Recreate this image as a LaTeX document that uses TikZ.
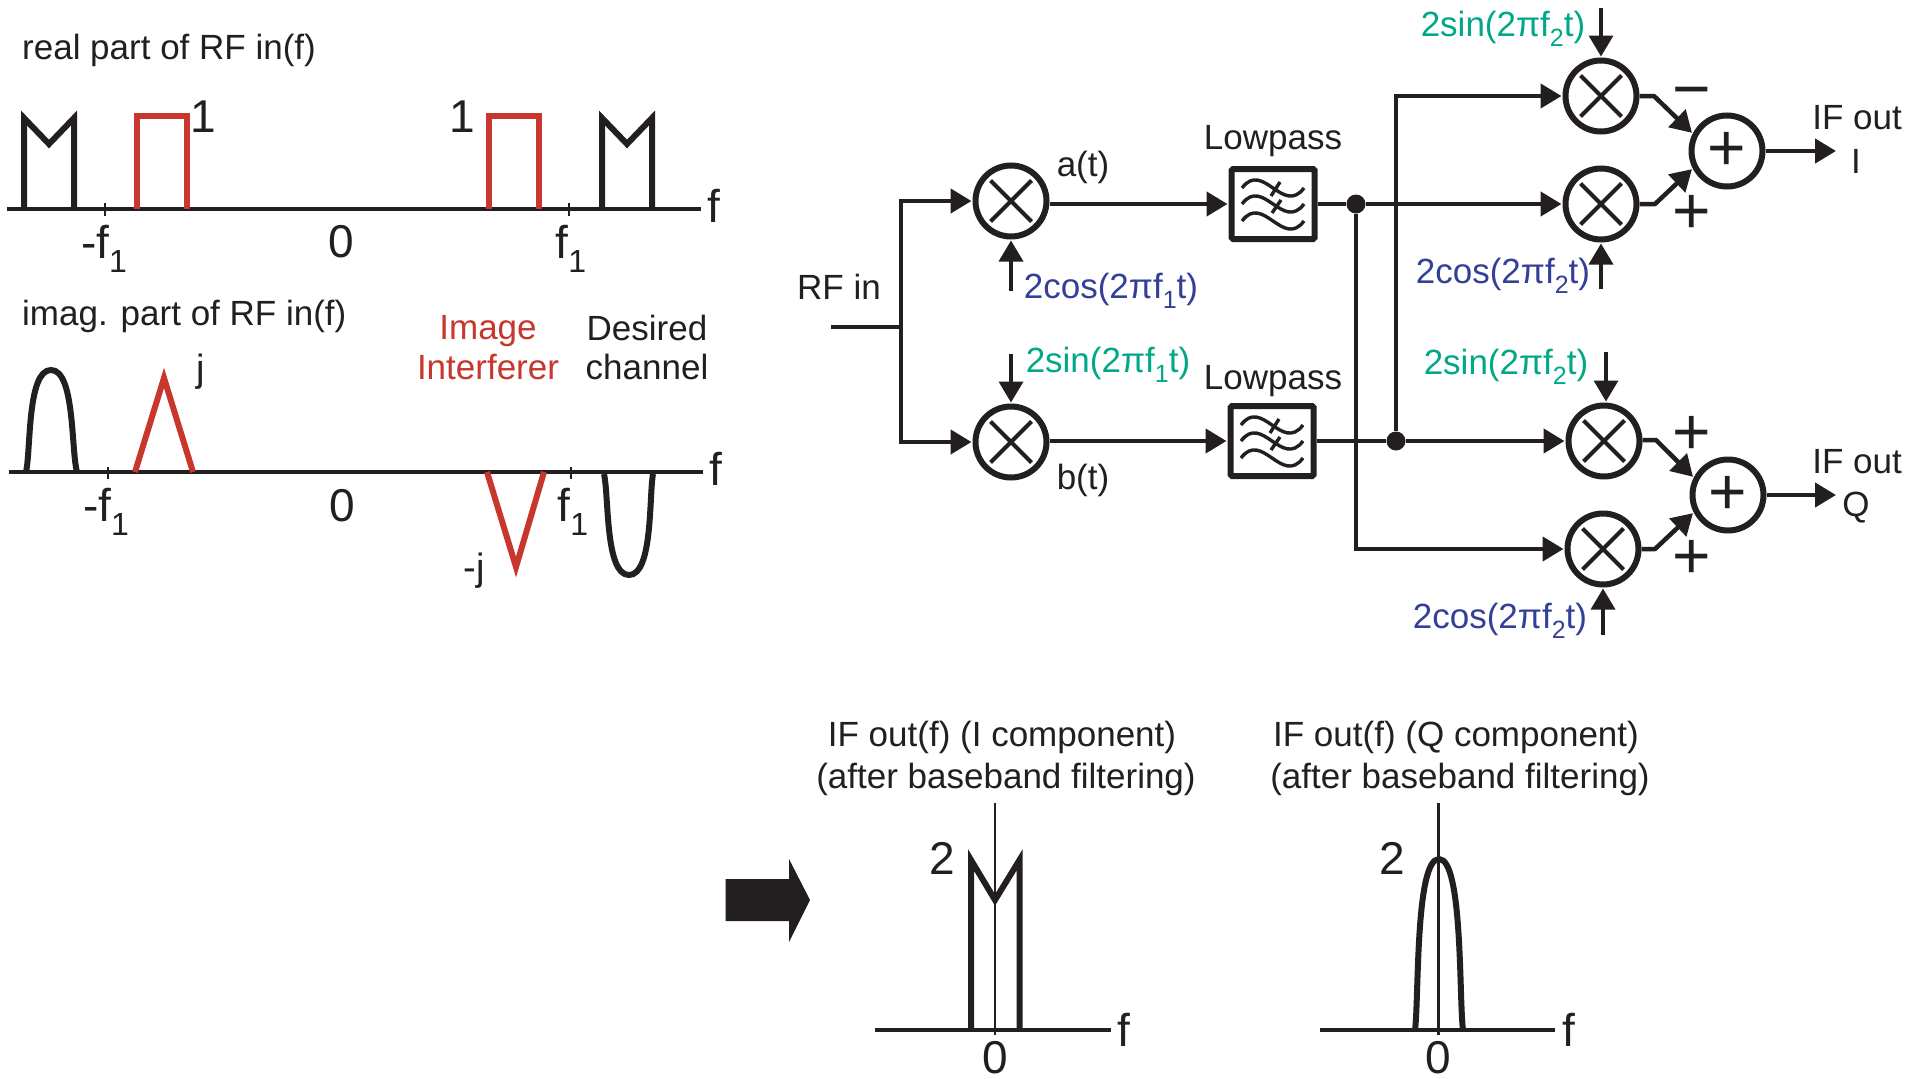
\documentclass[tikz,border=0pt]{standalone}
\usepackage{fontspec}
\setmainfont{Liberation Sans}
\usetikzlibrary{arrows.meta}
\definecolor{ink}{HTML}{231F20}
\definecolor{redc}{HTML}{C8372D}
\definecolor{bluec}{HTML}{343F98}
\definecolor{greenc}{HTML}{00A887}
\newcommand\lowsub[1]{\raisebox{-.28em}{\fontsize{25}{25}\selectfont #1}}
\newcommand\lowsubb[1]{\raisebox{-.3em}{\fontsize{32}{32}\selectfont #1}}
\tikzset{
  txt/.style={inner sep=0,text=ink,font=\fontsize{35}{35}\selectfont},
  big/.style={inner sep=0,text=ink,font=\fontsize{46}{46}\selectfont},
  axisline/.style={draw=ink,line width=3.6},
  tickline/.style={draw=ink,line width=2.2},
  curve/.style={draw=ink,line width=6,line join=miter,miter limit=10},
  redcurve/.style={draw=redc,line width=6,line join=miter,miter limit=10},
  sig/.style={draw=ink,line width=4.5,-{Triangle[length=21pt,width=24pt]},shorten >=1pt},
  wire/.style={draw=ink,line width=4.5},
  lo/.style={draw=ink,line width=3.6,-{Triangle[length=21pt,width=24pt]},shorten >=1pt},
  mixer/.style={circle,draw=ink,line width=6,minimum size=71,inner sep=0,fill=white,
    path picture={\draw[ink,line width=4,shift={(path picture bounding box.center)}]
      (-20.5,-20.5)--(20.5,20.5) (-20.5,20.5)--(20.5,-20.5);}},
  adder/.style={circle,draw=ink,line width=6,minimum size=71,inner sep=0,fill=white,
    text=ink,font=\fontsize{66}{66}\selectfont},
  lpf/.style={rectangle,draw=ink,line width=6,minimum width=83,minimum height=70,inner sep=0,
    rounded corners=1.5,fill=white,
    path picture={\begin{scope}[shift={(path picture bounding box.center)},ink,line width=3.4,line cap=butt]
      \draw (-31,-16) .. controls (-10,-44) and (10,12) .. (31,-16);
      \draw (-31,0) .. controls (-10,-28) and (10,28) .. (31,0);
      \draw (-31,17) .. controls (-10,-11) and (10,45) .. (31,17);
      \draw (-2,-8)--(7,-22) (-1,9)--(8,-4);
    \end{scope}}},
  dotn/.style={circle,fill=ink,inner sep=0,minimum size=19},
  signn/.style={inner sep=0,text=ink,font=\fontsize{66}{66}\selectfont},
}
\begin{document}
\begin{tikzpicture}[x=1pt,y=-1pt]
\useasboundingbox (0,0) rectangle (1923,1079);
\fill[white] (0,0) rectangle (1923,1079);

% top-left spectrum
\node[txt,anchor=west] (t1) at (22,50) {real part of RF in(f)};
\draw[axisline] (7,209)--(701,209);
\draw[tickline] (105,203)--(105,216) (569,203)--(569,216);
\draw[curve] (24,209)--(24,118)--(49,144)--(74,118)--(74,209);
\draw[curve] (602,209)--(602,118)--(627,144)--(652,118)--(652,209);
\draw[redcurve] (137,209)--(137,116)--(187,116)--(187,209);
\draw[redcurve] (489,209)--(489,116)--(539,116)--(539,209);
\node[big] (l1a) at (203,117) {1};
\node[big] (l1b) at (462,117) {1};
\node[big] (lf1) at (714,206) {f};
\node[big] (lm1) at (104,249) {-f\lowsubb{1}};
\node[big] (lz1) at (341,242) {0};
\node[big] (lp1) at (571,249) {f\lowsubb{1}};

% lower-left spectrum
\node[txt,anchor=west] (t2) at (22,316) {imag. part of RF in(f)};
\node[txt,text=redc] (im) at (488,331) {Image};
\node[txt,text=redc] (intf) at (488,367) {Interferer};
\node[txt] (des) at (647,328) {Desired};
\node[txt] (chan) at (647,367) {channel};
\draw[axisline] (9,472)--(703,472);
\draw[tickline] (108,467)--(108,479) (571,467)--(571,479);
\draw[curve] (26,472) .. controls (31,450) and (27,370) .. (51,370) .. controls (75,370) and (71,450) .. (77,472);
\draw[curve] (604,474) .. controls (609,496) and (605,575) .. (629,575) .. controls (653,575) and (649,496) .. (653,474);
\draw[redcurve] (135,472)--(164,378)--(193,472);
\draw[redcurve] (487,472)--(516,567)--(544,472);
\node[txt,font=\fontsize{38}{38}\selectfont] (lj) at (201,372) {j};
\node[txt,font=\fontsize{38}{38}\selectfont] (lmj) at (474,571) {-j};
\node[big] (lf2) at (716,469) {f};
\node[big] (lm2) at (106,512) {-f\lowsubb{1}};
\node[big] (lz2) at (342,506) {0};
\node[big] (lp2) at (573,512) {f\lowsubb{1}};

% front end
\node[mixer] (m1) at (1011,201) {};
\node[mixer] (m2) at (1011,442) {};
\node[lpf] (f1) at (1273,204) {};
\node[lpf] (f2) at (1272,441) {};
\coordinate (rfs) at (831,327);
\coordinate (rfj) at (901,327);
\node[txt] (rfl) at (839,287) {RF in};
\draw[wire] (rfs)--(rfj);
\draw[sig] (rfj) |- (m1);
\draw[sig] (rfj) |- (m2);
\draw[sig] (m1.east|-f1)--(f1);
\draw[sig] (m2.east|-f2)--(f2);
\node[txt] (at) at (1083,167) {a(t)};
\node[txt] (bt) at (1083,480) {b(t)};
\node[txt] (lp1t) at (1273,141) {Lowpass};
\node[txt] (lp2t) at (1273,381) {Lowpass};
\coordinate (c1) at (1011,291);
\coordinate (s1) at (1011,354);
\draw[lo] (c1)--(m1);
\draw[lo] (s1)--(m2);
\node[txt,text=bluec] (cos1) at (1111,291) {2cos(2πf\lowsub{1}t)};
\node[txt,text=greenc] (sin1) at (1108,365) {2sin(2πf\lowsub{1}t)};

% second stage
\node[mixer] (m3) at (1601,96) {};
\node[mixer] (m4) at (1601,204) {};
\node[mixer] (m5) at (1604,441) {};
\node[mixer] (m6) at (1603,549) {};
\node[adder] (a1) at (1727,151) {+};
\node[adder] (a2) at (1728,495) {+};
\node[dotn] (d1) at (1356,204) {};
\node[dotn] (d2) at (1396,441) {};
\draw[wire] (f1)--(d1);
\draw[wire] (f2)--(d2);
\draw[sig] (d1)--(m4);
\draw[sig] (d2)--(m5);
\draw[sig] (d2) |- (m3);
\draw[sig] (d1) |- (m6);
\coordinate (b3) at (1654,96);
\coordinate (b4) at (1655,204);
\coordinate (b5) at (1656,440);
\coordinate (b6) at (1655,549);
\draw[sig,line join=round] (m3)--(b3)--(a1.153);
\draw[sig,line join=round] (m4)--(b4)--(a1.207);
\draw[sig,line join=round] (m5.east|-b5)--(b5)--(a2.153);
\draw[sig,line join=round] (m6)--(b6)--(a2.207);
\coordinate (o1) at (1836,151);
\coordinate (o2) at (1836,495);
\draw[sig,shorten >=0pt] (a1)--(o1);
\draw[sig,shorten >=0pt] (a2)--(o2);
\coordinate (lo3) at (1601,8);
\coordinate (lo4) at (1601,289);
\coordinate (lo5) at (1606,352);
\coordinate (lo6) at (1603,635);
\draw[lo] (lo3)--(m3);
\draw[lo] (lo4)--(m4);
\draw[lo] (lo5)--(lo5|-m5.north);
\draw[lo] (lo6)--(m6);
\node[txt,text=greenc] (sin2) at (1503,29) {2sin(2πf\lowsub{2}t)};
\node[txt,text=bluec] (cos2) at (1503,276) {2cos(2πf\lowsub{2}t)};
\node[txt,text=greenc] (sin3) at (1506,367) {2sin(2πf\lowsub{2}t)};
\node[txt,text=bluec] (cos3) at (1500,621) {2cos(2πf\lowsub{2}t)};
\node[signn] (sg1) at (1692,99) {−};
\node[signn] (sg2) at (1692,214) {+};
\node[signn] (sg3) at (1692,435) {+};
\node[signn] (sg4) at (1692,559) {+};
\node[txt] (if1) at (1857,118) {IF out};
\node[txt] (ifi) at (1856,161) {I};
\node[txt] (if2) at (1857,462) {IF out};
\node[txt] (ifq) at (1856,508) {Q};

% bottom
\fill[ink] (725.5,879)--(789,879)--(789,859)--(810,900)--(789,942)--(789,921)--(725.5,921)--cycle;
\node[txt] (c1a) at (1002,737) {IF out(f) (I component)};
\node[txt] (c1b) at (1006,779) {(after baseband filtering)};
\node[txt] (c2a) at (1456,737) {IF out(f) (Q component)};
\node[txt] (c2b) at (1460,779) {(after baseband filtering)};
\draw[axisline] (875,1030)--(1111,1030);
\draw[axisline] (1320,1030)--(1555,1030);
\draw[tickline] (995,803)--(995,1035);
\draw[tickline] (1438.5,803)--(1438.5,1035);
\draw[curve] (971,1028)--(971,860)--(995,900)--(1019.5,860)--(1019.5,1028);
\draw[curve] (1415,1030) .. controls (1419,1000) and (1415,859) .. (1439,859) .. controls (1463,859) and (1459,1000) .. (1463,1030);
\node[big] (n2a) at (942,858) {2};
\node[big] (n2b) at (1392,858) {2};
\node[big] (fa) at (1124,1030) {f};
\node[big] (fb) at (1569,1030) {f};
\node[big] (za) at (995,1058) {0};
\node[big] (zb) at (1438.5,1058) {0};
\end{tikzpicture}
\end{document}
